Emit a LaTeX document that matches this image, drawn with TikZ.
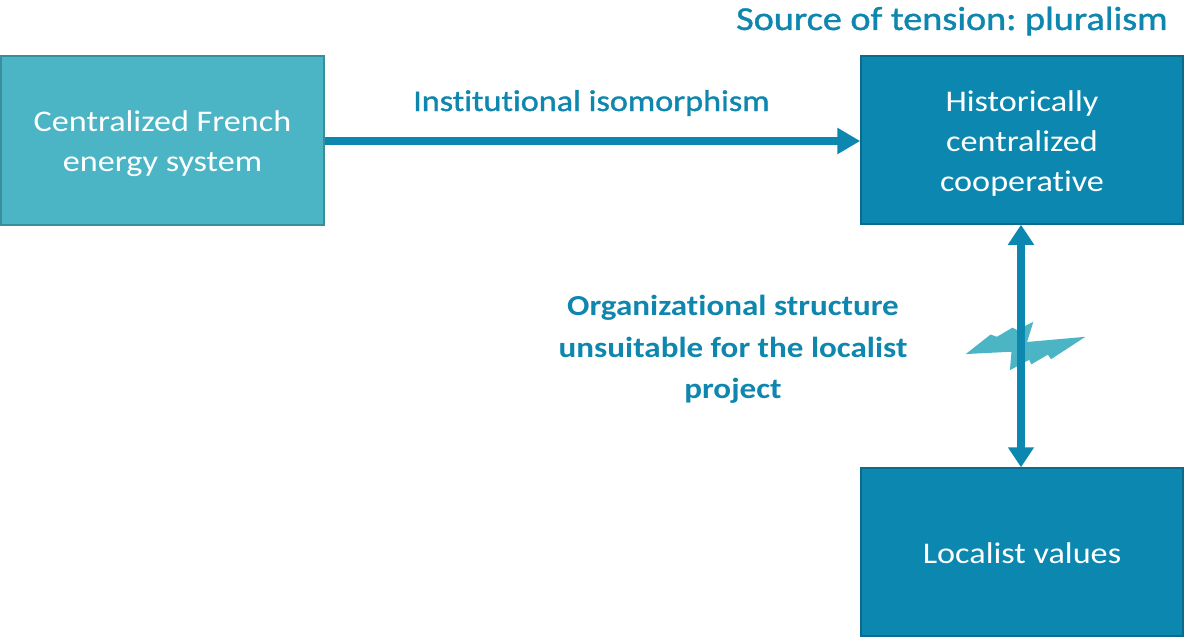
\documentclass[tikz,border=0pt]{standalone}
\usepackage{fontspec}
\setmainfont{Carlito}[FakeStretch=1.14, Ligatures=NoCommon]
\newfontfamily\semifont{Carlito}[FakeStretch=1.14, Ligatures=NoCommon, FakeBold=1.2]
\usetikzlibrary{arrows.meta}
\definecolor{lightbox}{HTML}{4BB5C5}
\definecolor{lightedge}{HTML}{3A8D9A}
\definecolor{darkbox}{HTML}{0B87B0}
\definecolor{darkedge}{HTML}{0A6B8C}
\definecolor{labelcol}{HTML}{0E86AE}
\tikzset{
  lightnode/.style={draw=lightedge, fill=lightbox, line width=1.5pt, minimum width=323pt, minimum height=169pt, inner sep=0pt},
  darknode/.style={draw=darkedge, fill=darkbox, line width=1.5pt, minimum width=322pt, minimum height=168pt, inner sep=0pt},
  boxtext/.style={text=white, align=center, inner sep=0pt, font=\fontsize{30}{40.5}\selectfont},
  conn/.style={draw=darkbox, line width=8pt},
  lbl/.style={text=labelcol, inner sep=0pt}
}
\begin{document}
\frenchspacing
\begin{tikzpicture}[x=1pt,y=-1pt]
\useasboundingbox (0,0) rectangle (1184,637);
\node[lightnode] (cfes) at (162.5,140.5) {};
\node[darknode] (hcc) at (1022,140) {};
\node[darknode] (lv) at (1022,552) {};
\node[boxtext] (cfes-t) at ([yshift=-3pt]cfes.center) {Centralized French\\energy system};
\node[boxtext] (hcc-t) at ([yshift=-3.5pt]hcc.center) {Historically\\centralized\\cooperative};
\node[boxtext] (lv-t) at ([yshift=-1pt]lv.center) {Localist values};
\node[lbl, anchor=base east, font=\semifont\fontsize{33.5}{40}\selectfont] (title) at (1168,30) {Source of tension: pluralism};
\node[lbl, anchor=base, font=\semifont\fontsize{30}{36}\selectfont] (iso) at (591.5,111) {Institutional isomorphism};
\node[lbl, align=center, font=\bfseries\fontsize{29}{41.5}\selectfont] (org) at (733,349.5) {Organizational structure\\unsuitable for the localist\\project};
\begin{scope}[shift={(1025,346)}, xscale=1.04, yscale=1.15, shift={(-1025,-346)}]
\fill[lightbox] (968,353) -- (992,336) -- (998,338) -- (1013,330) -- (1017,332) -- (1033,325) -- (1027,342.5) -- (1083,338) -- (1050,357.5) -- (1047,353.5) -- (1031,362) -- (1029,358) -- (1010.5,367) -- (1012,351) -- cycle;
\end{scope}
\draw[conn, -{Triangle[length=23pt,width=25pt]}] (cfes.east |- 0,141) -- (hcc.west |- 0,141);
\draw[conn, {Triangle[length=20pt,width=25pt]}-{Triangle[length=20pt,width=25pt]}] (hcc.south -| 1021,0) -- (lv.north -| 1021,0);
\end{tikzpicture}
\end{document}
